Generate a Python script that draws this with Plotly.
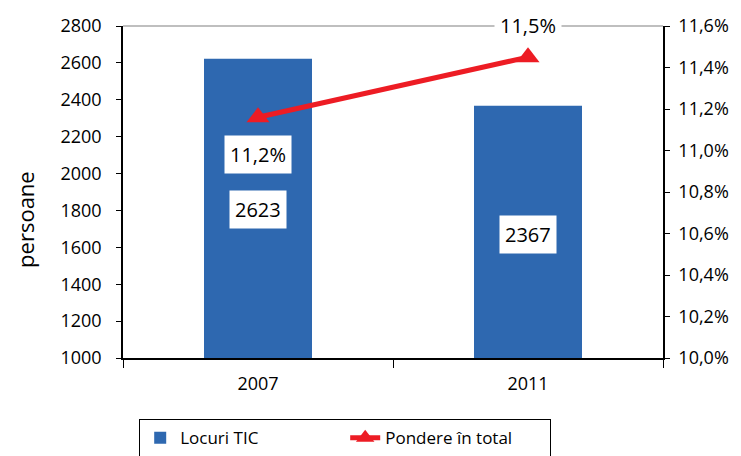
import plotly.graph_objects as go

years = ["2007", "2011"]
locuri_tic = [2623, 2367]
pondere = [11.16, 11.45]
pondere_labels = ["11,2%", "11,5%"]
left_ticks = [1000, 1200, 1400, 1600, 1800, 2000, 2200, 2400, 2600, 2800]
right_ticks = [10.0, 10.2, 10.4, 10.6, 10.8, 11.0, 11.2, 11.4, 11.6]
y_title = "persoane"

FONT = "Open Sans"
BLUE = "#2e68b0"
RED = "#ed1c24"

x_idx = list(range(len(years)))
right_text = [f"{v:.1f}".replace(".", ",") + "%" for v in right_ticks]
boundaries = [i - 0.5 for i in x_idx] + [x_idx[-1] + 0.5]

fig = go.Figure()
fig.add_trace(go.Bar(x=x_idx, y=locuri_tic, name="Locuri TIC", width=0.4,
                     marker=dict(color=BLUE, line=dict(width=0)), yaxis="y"))
fig.add_trace(go.Scatter(x=x_idx, y=pondere, name="Pondere în total", mode="lines+markers",
                         line=dict(color=RED, width=5),
                         marker=dict(symbol="triangle-up", size=20, color=RED),
                         yaxis="y2"))

# data labels
bar_shifts = [-151, -129]
for xi, v, s in zip(x_idx, locuri_tic, bar_shifts):
    fig.add_annotation(x=xi, y=v, xref="x", yref="y", text=str(v), showarrow=False,
                       yshift=s, bgcolor="white",
                       font=dict(family=FONT, size=20, color="black"), borderpad=5)
pct_shifts = [-37, 32]
for xi, v, lab, s in zip(x_idx, pondere, pondere_labels, pct_shifts):
    fig.add_annotation(x=xi, y=v, xref="x", yref="y2", text=lab, showarrow=False,
                       yshift=s, bgcolor="white",
                       font=dict(family=FONT, size=20, color="black"), borderpad=5)

# y-axis title
fig.add_annotation(x=0, y=0.416, xref="paper", yref="paper", text=y_title,
                   textangle=-90, showarrow=False, xanchor="center", yanchor="middle",
                   xshift=-98, font=dict(family=FONT, size=22, color="black"))

# top border (gray)
fig.add_shape(type="line", xref="paper", yref="paper", x0=0, x1=1, y0=1, y1=1,
              line=dict(color="#aaaaaa", width=1.5), layer="below")

fig.update_layout(
    width=733, height=448,
    margin=dict(l=115, r=78, t=18, b=98, autoexpand=False),
    paper_bgcolor="white", plot_bgcolor="white",
    font=dict(family=FONT, size=18, color="black"),
    showlegend=True,
    legend=dict(orientation="h", x=0.03, xanchor="left", y=-0.184, yanchor="top",
                bordercolor="black", borderwidth=1, bgcolor="white",
                entrywidth=160, entrywidthmode="pixels",
                font=dict(family=FONT, size=17), itemsizing="trace"),
    xaxis=dict(type="linear", range=[-0.5, 1.5], tickvals=x_idx, ticktext=years,
               ticks="", showline=True, linecolor="black", linewidth=2,
               showgrid=False, zeroline=False, tickfont=dict(size=18),
               ticklabelstandoff=8, automargin=False,
               minor=dict(tickvals=boundaries, ticks="outside", ticklen=8,
                          tickcolor="black", showgrid=False)),
    yaxis=dict(range=[1000, 2800], tickvals=left_ticks, showline=True, linecolor="black",
               linewidth=1.5, ticks="outside", ticklen=5, tickcolor="black",
               showgrid=False, zeroline=False, ticklabelstandoff=11, automargin=False),
    yaxis2=dict(overlaying="y", side="right", anchor="x", range=[10.0, 11.6],
                tickvals=right_ticks, ticktext=right_text,
                showline=True, linecolor="black", linewidth=1.5, ticks="outside",
                ticklen=5, tickcolor="black", showgrid=False, zeroline=False,
                ticklabelstandoff=5, automargin=False),
)

fig.write_html("out.html")
